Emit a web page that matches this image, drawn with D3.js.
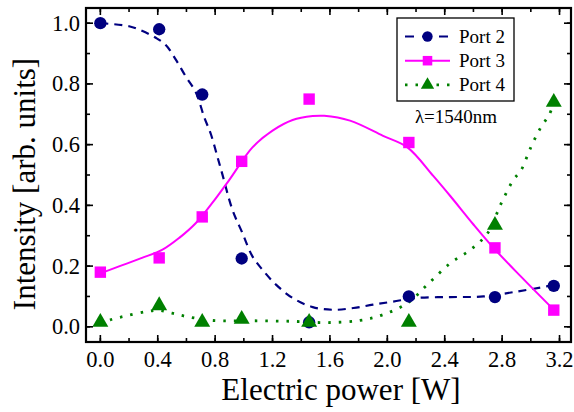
<!DOCTYPE html>
<html lang="en">
  <head>
    <meta charset="UTF-8" />
    <title>Port intensity vs electric power</title>
    <script src="https://d3js.org/d3.v7.min.js"></script>
    <style>
      body { margin: 0; background: #fff; }
      text { font-family: "Liberation Serif", "Times New Roman", serif; fill: #000; }
    </style>
  </head>
  <body>
    <script>
      // measured points
      var power = [0, 0.41, 0.71, 0.985, 1.455, 2.15, 2.75, 3.16];
      var port2 = [1.0, 0.98, 0.765, 0.225, 0.015, 0.1, 0.098, 0.135];
      var port3 = [0.18, 0.227, 0.362, 0.545, 0.75, 0.607, 0.26, 0.055];
      var port4 = [0.015, 0.07, 0.015, 0.025, 0.015, 0.015, 0.335, 0.74];

      // fitted curves
      var fit2x = [0, 0.2, 0.29, 0.386, 0.456, 0.526, 0.596, 0.666, 0.724, 0.77, 0.817, 0.85, 0.92, 0.99, 1.06, 1.13, 1.224, 1.34, 1.48, 1.624, 1.764, 1.9, 2.04, 2.2, 2.44, 2.67, 2.9, 3.11, 3.16];
      var fit2y = [1.0, 0.99, 0.975, 0.952, 0.928, 0.88, 0.824, 0.772, 0.69, 0.635, 0.558, 0.503, 0.386, 0.309, 0.232, 0.188, 0.139, 0.095, 0.065, 0.056, 0.062, 0.073, 0.083, 0.095, 0.098, 0.1, 0.116, 0.133, 0.138];
      var fit3x = [0, 0.13, 0.29, 0.433, 0.55, 0.666, 0.78, 0.9, 1.06, 1.2, 1.34, 1.48, 1.56, 1.74, 1.97, 2.14, 2.32, 2.44, 2.6, 2.74, 2.93, 3.16];
      var fit3y = [0.176, 0.199, 0.227, 0.254, 0.293, 0.342, 0.408, 0.485, 0.591, 0.646, 0.681, 0.694, 0.695, 0.679, 0.629, 0.591, 0.497, 0.43, 0.337, 0.26, 0.166, 0.056];
      var fit4x = [0, 0.07, 0.18, 0.32, 0.41, 0.5, 0.6, 0.78, 1.06, 1.34, 1.57, 1.81, 1.97, 2.14, 2.28, 2.44, 2.58, 2.7, 2.79, 2.88, 2.93, 3.0, 3.07, 3.13, 3.16];
      var fit4y = [0.008, 0.023, 0.036, 0.05, 0.054, 0.045, 0.034, 0.021, 0.02, 0.018, 0.014, 0.021, 0.04, 0.078, 0.139, 0.21, 0.254, 0.309, 0.403, 0.485, 0.514, 0.591, 0.657, 0.70, 0.74];

      var xTicks = [0, 0.4, 0.8, 1.2, 1.6, 2.0, 2.4, 2.8, 3.2];
      var yTicks = [0, 0.2, 0.4, 0.6, 0.8, 1.0];
      var seriesNames = ["Port 2", "Port 3", "Port 4"];

      var pLeft = 86, pRight = 571, pTop = 8, pBottom = 342;

      var svg = d3.select("body").append("svg")
        .attr("width", 574)
        .attr("height", 412);

      var x = d3.scaleLinear().domain([-0.1, 3.28]).range([pLeft, pRight]);
      var y = d3.scaleLinear().domain([-0.05, 1.05]).range([pBottom, pTop]);

      var series = [
        { name: seriesNames[0], ys: port2, fx: fit2x, fy: fit2y, color: "#000080", dash: "8,6", legDash: "9,8", width: 2.2, shape: d3.symbolCircle, size: 120 },
        { name: seriesNames[1], ys: port3, fx: fit3x, fy: fit3y, color: "#ff00ff", dash: null, legDash: null, width: 2, shape: d3.symbolSquare, size: 130 },
        { name: seriesNames[2], ys: port4, fx: fit4x, fy: fit4y, color: "#008000", dash: "2.5,8", legDash: "2.5,8", width: 2.8, shape: d3.symbolTriangle, size: 110 }
      ];

      var line = d3.line()
        .x(function (d) { return x(d[0]); })
        .y(function (d) { return y(d[1]); })
        .curve(d3.curveCatmullRom.alpha(0.5));

      var plot = svg.append("g");

      series.forEach(function (s) {
        var pts = s.fx.map(function (v, i) { return [v, s.fy[i]]; });
        plot.append("path")
          .attr("d", line(pts))
          .attr("fill", "none")
          .attr("stroke", s.color)
          .attr("stroke-width", s.width)
          .attr("stroke-dasharray", s.dash);
      });

      series.forEach(function (s) {
        plot.selectAll(null)
          .data(power)
          .enter()
          .append("path")
          .attr("d", d3.symbol().type(s.shape).size(s.size))
          .attr("transform", function (d, i) {
            return "translate(" + x(d) + "," + y(s.ys[i]) + ")";
          })
          .attr("fill", s.color);
      });

      // axes: inward ticks on all four sides
      var xMinor = d3.range(0, 3.3, 0.2);
      var yMinor = d3.range(0, 1.05, 0.1);

      function tickLines(g, vals, len, fn) {
        g.selectAll(null).data(vals).enter().append("line")
          .attr("stroke", "#000").attr("stroke-width", 1.6)
          .each(function (d) { fn(d3.select(this), d, len); });
      }
      var ax = svg.append("g");
      tickLines(ax, xMinor, 4, function (l, d, n) { l.attr("x1", x(d)).attr("x2", x(d)).attr("y1", pBottom).attr("y2", pBottom - n); });
      tickLines(ax, xTicks, 7, function (l, d, n) { l.attr("x1", x(d)).attr("x2", x(d)).attr("y1", pBottom).attr("y2", pBottom - n); });
      tickLines(ax, xMinor, 4, function (l, d, n) { l.attr("x1", x(d)).attr("x2", x(d)).attr("y1", pTop).attr("y2", pTop + n); });
      tickLines(ax, xTicks, 7, function (l, d, n) { l.attr("x1", x(d)).attr("x2", x(d)).attr("y1", pTop).attr("y2", pTop + n); });
      tickLines(ax, yMinor, 4, function (l, d, n) { l.attr("y1", y(d)).attr("y2", y(d)).attr("x1", pLeft).attr("x2", pLeft + n); });
      tickLines(ax, yTicks, 7, function (l, d, n) { l.attr("y1", y(d)).attr("y2", y(d)).attr("x1", pLeft).attr("x2", pLeft + n); });
      tickLines(ax, yMinor, 4, function (l, d, n) { l.attr("y1", y(d)).attr("y2", y(d)).attr("x1", pRight).attr("x2", pRight - n); });
      tickLines(ax, yTicks, 7, function (l, d, n) { l.attr("y1", y(d)).attr("y2", y(d)).attr("x1", pRight).attr("x2", pRight - n); });

      svg.append("rect")
        .attr("x", pLeft).attr("y", pTop)
        .attr("width", pRight - pLeft).attr("height", pBottom - pTop)
        .attr("fill", "none").attr("stroke", "#000").attr("stroke-width", 2.2);

      svg.selectAll(".xl").data(xTicks).enter().append("text")
        .attr("x", function (d) { return x(d); })
        .attr("y", 367)
        .attr("text-anchor", "middle")
        .style("font-size", "22.5px")
        .text(function (d) { return d.toFixed(1); });

      svg.selectAll(".yl").data(yTicks).enter().append("text")
        .attr("x", 80)
        .attr("y", function (d) { return y(d) + 7.5; })
        .attr("text-anchor", "end")
        .style("font-size", "22.5px")
        .text(function (d) { return d.toFixed(1); });

      svg.append("text")
        .attr("x", 341).attr("y", 400)
        .attr("text-anchor", "middle")
        .style("font-size", "31px")
        .text("Electric power [W]");

      svg.append("text")
        .attr("transform", "translate(35,184) rotate(-90)")
        .attr("text-anchor", "middle")
        .style("font-size", "31px")
        .text("Intensity [arb. units]");

      // legend
      var lg = svg.append("g");
      lg.append("rect")
        .attr("x", 397).attr("y", 18).attr("width", 117).attr("height", 83)
        .attr("fill", "#fff").attr("stroke", "#000").attr("stroke-width", 1.3);
      series.forEach(function (s, i) {
        var ly = 36.5 + i * 24.2;
        lg.append("line")
          .attr("x1", 405).attr("x2", 450).attr("y1", ly).attr("y2", ly)
          .attr("stroke", s.color).attr("stroke-width", s.width)
          .attr("stroke-dasharray", s.legDash);
        lg.append("path")
          .attr("d", d3.symbol().type(s.shape).size(s.size * 0.7))
          .attr("transform", "translate(427.5," + ly + ")")
          .attr("fill", s.color);
        lg.append("text")
          .attr("x", 459).attr("y", ly + 6.5)
          .style("font-size", "19px")
          .text(s.name);
      });

      svg.append("text")
        .attr("x", 456).attr("y", 123)
        .attr("text-anchor", "middle")
        .style("font-size", "19px")
        .text("λ=1540nm");
    </script>
  </body>
</html>
